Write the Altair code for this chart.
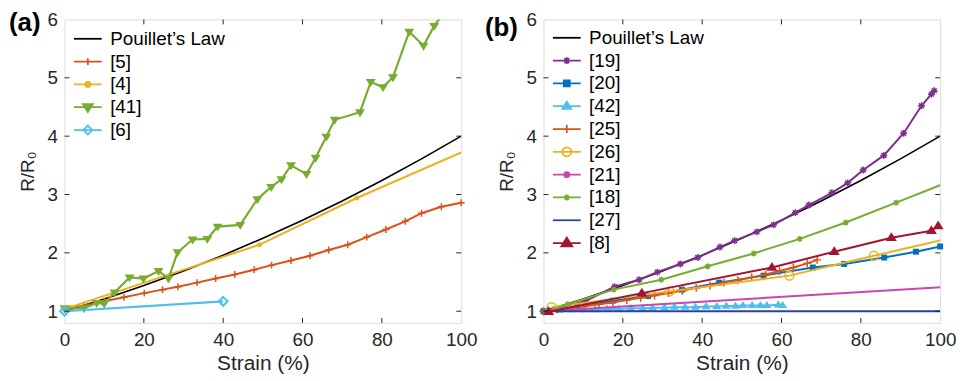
import altair as alt
import pandas as pd

# ---------------- data: panel (a) ----------------
a_pouillet_x = [0, 10, 20, 30, 40, 50, 60, 70, 80, 90, 100]
a_pouillet_y = [1.0, 1.21, 1.44, 1.69, 1.96, 2.25, 2.56, 2.89, 3.24, 3.61, 4.0]

a5_x = [0, 5, 10, 15.0, 20.1, 24.7, 28.6, 33.4, 38.1, 42.9, 47.8, 52.2, 57.1, 61.9, 66.6, 71.4, 76.2, 81.0, 85.9, 90.0, 95.0, 100]
a5_y = [1.03, 1.10, 1.17, 1.24, 1.31, 1.37, 1.42, 1.49, 1.56, 1.63, 1.71, 1.79, 1.87, 1.95, 2.05, 2.14, 2.27, 2.40, 2.54, 2.68, 2.79, 2.86]

a4_x = [1.4, 49.2, 73.7, 104]
a4_y = [1.07, 2.14, 2.94, 3.84]

a41_x = [0, 4.9, 8.1, 10.0, 12.6, 16.4, 19.9, 23.7, 26.2, 28.5, 32.3, 36.0, 38.6, 44.3, 48.6, 52.1, 54.7, 57.1, 61.0, 63.3, 66.0, 68.1, 74.5, 77.2, 80.3, 82.8, 86.9, 90.5, 93.2, 96.5]
a41_y = [1.05, 1.05, 1.14, 1.13, 1.32, 1.58, 1.56, 1.69, 1.56, 2.01, 2.23, 2.24, 2.45, 2.48, 2.92, 3.13, 3.26, 3.50, 3.35, 3.63, 3.99, 4.28, 4.41, 4.93, 4.84, 5.01, 5.79, 5.55, 5.89, 6.2]

a6_x = [0, 40]
a6_y = [1.0, 1.17]

# ---------------- data: panel (b) ----------------
b_pouillet_x = [0, 10, 20, 30, 40, 50, 60, 70, 80, 90, 100]
b_pouillet_y = [1.0, 1.21, 1.44, 1.69, 1.96, 2.25, 2.56, 2.89, 3.24, 3.61, 4.0]

b19_x = [0, 10.5, 17.9, 24.1, 28.7, 34.5, 38.9, 44.5, 48.2, 53.8, 58.0, 63.5, 66.9, 72.7, 76.7, 80.6, 85.8, 90.8, 95.3, 97.8, 98.5]
b19_y = [1.0, 1.17, 1.42, 1.54, 1.67, 1.81, 1.92, 2.10, 2.21, 2.36, 2.48, 2.69, 2.82, 3.03, 3.20, 3.42, 3.67, 4.05, 4.52, 4.72, 4.78]

b20_x = [0, 8.5, 17.4, 26.4, 34.9, 44.3, 55.5, 67.9, 75.8, 85.9, 93.9, 100]
b20_y = [1.0, 1.07, 1.18, 1.26, 1.37, 1.49, 1.61, 1.75, 1.81, 1.92, 2.02, 2.11]

b42_x = [1, 4, 7, 10, 13, 16, 19, 22, 25, 27.5, 30.5, 33.0, 35.7, 38.3, 41.0, 43.7, 46.1, 48.4, 50.3, 52.6, 54.7, 56.3, 59.2, 60.3]
b42_y = [1.02, 1.02, 1.03, 1.03, 1.03, 1.04, 1.04, 1.05, 1.05, 1.06, 1.06, 1.07, 1.07, 1.07, 1.08, 1.08, 1.09, 1.09, 1.10, 1.10, 1.10, 1.10, 1.11, 1.10]

b25_x = [0, 3.5, 7, 10.5, 14, 17.5, 21, 24.5, 28, 31.5, 35, 38.5, 42, 45.5, 49, 52.5, 56, 59.5, 63, 66.5, 69]
b25_y = [1.0, 1.03, 1.06, 1.09, 1.12, 1.15, 1.19, 1.23, 1.27, 1.31, 1.35, 1.40, 1.44, 1.49, 1.53, 1.58, 1.63, 1.69, 1.75, 1.82, 1.88]

b26_x = [2.0, 31.8, 62.0, 83.3, 105]
b26_y = [1.07, 1.34, 1.61, 1.95, 2.29]

b21_x = [0, 110]
b21_y = [1.0, 1.45]

b18_x = [1, 6.1, 17.7, 29.7, 41.4, 53.0, 64.6, 76.2, 88.9, 101.5]
b18_y = [1.0, 1.12, 1.37, 1.54, 1.77, 1.99, 2.24, 2.52, 2.86, 3.20]

b27_x = [0, 100]
b27_y = [1.0, 1.0]

b8_x = [1.3, 24.8, 57.6, 73.3, 87.7, 97.8, 99.5]
b8_y = [0.99, 1.31, 1.75, 2.02, 2.26, 2.38, 2.46]

x_ticks = [0, 20, 40, 60, 80, 100]
y_ticks = [1, 2, 3, 4, 5, 6]

# ---------------- styling ----------------
FONT = "Liberation Sans"
AXC = "#262626"
W, H = 400, 306
XDOM = [0, 100]
YDOM = [0.8, 6]


def mpath(kind, a=1.0):
    if kind == "tri_down":
        return f"M{-a},{-0.6*a}L{a},{-0.6*a}L0,{a}Z"
    if kind == "tri_up":
        return f"M{-a},{0.6*a}L{a},{0.6*a}L0,{-a}Z"
    if kind == "square":
        return f"M{-a},{-a}H{a}V{a}H{-a}Z"
    if kind == "diamond":
        return f"M0,{-a}L{a},0L0,{a}L{-a},0Z"
    if kind in ("circle", "ring"):
        return f"M{-a},0A{a},{a} 0 1,0 {a},0A{a},{a} 0 1,0 {-a},0Z"
    if kind == "plus":
        return f"M{-a},0H{a}M0,{-a}V{a}"
    if kind == "star":
        b = 0.7 * a
        return f"M{-a},0H{a}M0,{-a}V{a}M{-b},{-b}L{b},{b}M{-b},{b}L{b},{-b}"
    return ""


LEG_UNIT = 5.0  # px per path unit in legend (symbolSize 100)


def legpath(kind, px):
    line = "M-2.8,0H2.8"
    if kind is None:
        return line
    return line + mpath(kind, (px / 2) / LEG_UNIT)


def series(name, xs, ys, color, marker=None, px=7, filled=True, lw=1.8, msw=1.5):
    return dict(name=name, x=xs, y=ys, color=color, marker=marker, px=px,
                filled=filled, lw=lw, msw=msw)


ORANGE_RED = "#D95319"
YELLOW = "#EDB120"
GREEN = "#77AC30"
CYAN = "#4DBEEE"
PURPLE = "#7E2F8E"
BLUE = "#0072BD"
MAGENTA = "#CC44B0"
NAVY = "#2D3FA0"
DARKRED = "#A2142F"

series_a = [
    series("Pouillet\u2019s Law", a_pouillet_x, a_pouillet_y, "#000000", None, lw=1.6),
    series("[5]", a5_x, a5_y, ORANGE_RED, "plus", px=7, filled=False, lw=2),
    series("[4]", a4_x, a4_y, YELLOW, "circle", px=5, filled=True, lw=2),
    series("[41]", a41_x, a41_y, GREEN, "tri_down", px=10, filled=True, lw=2.2),
    series("[6]", a6_x, a6_y, CYAN, "diamond", px=9, filled=False, lw=2.2, msw=2),
]

series_b = [
    series("Pouillet\u2019s Law", b_pouillet_x, b_pouillet_y, "#000000", None, lw=1.6),
    series("[19]", b19_x, b19_y, PURPLE, "star", px=7, filled=False, lw=2),
    series("[20]", b20_x, b20_y, BLUE, "square", px=6, filled=True, lw=2),
    series("[42]", b42_x, b42_y, CYAN, "tri_up", px=9, filled=True, lw=2),
    series("[25]", b25_x, b25_y, ORANGE_RED, "plus", px=8, filled=False, lw=2),
    series("[26]", b26_x, b26_y, YELLOW, "ring", px=9, filled=False, lw=2),
    series("[21]", b21_x, b21_y, MAGENTA, "circle", px=5, filled=True, lw=2),
    series("[18]", b18_x, b18_y, GREEN, "star", px=6, filled=False, lw=2),
    series("[27]", b27_x, b27_y, NAVY, None, lw=2),
    series("[8]", b8_x, b8_y, DARKRED, "tri_up", px=11, filled=True, lw=2),
]


def make_panel(slist, tag, tag_dx, tag_dy, legx, legy):
    xscale = alt.Scale(domain=XDOM, nice=False, zero=False)
    yscale = alt.Scale(domain=YDOM, nice=False, zero=False)
    xaxis = alt.Axis(values=x_ticks, title="Strain (%)", ticks=False, domain=False, grid=False,
                     labelFont=FONT, labelFontSize=19, labelColor=AXC, labelPadding=8,
                     labelFlush=False, labelOverlap=False,
                     titleFont=FONT, titleFontSize=21, titleFontWeight="normal",
                     titleColor=AXC, titlePadding=3)
    yaxis = alt.Axis(values=y_ticks, title="R/R\u2080", ticks=False, domain=False, grid=False,
                     labelFont=FONT, labelFontSize=19, labelColor=AXC, labelPadding=7,
                     labelOverlap=False,
                     titleFont=FONT, titleFontSize=19, titleFontWeight="normal",
                     titleColor=AXC, titlePadding=10)
    X = lambda f: alt.X(f, scale=xscale, axis=xaxis)
    Y = lambda f: alt.Y(f, scale=yscale, axis=yaxis)

    layers = []
    for s in slist:
        df = pd.DataFrame({"x": s["x"], "y": s["y"]})
        base = alt.Chart(df)
        layers.append(base.mark_line(color=s["color"], strokeWidth=s["lw"], clip=True)
                      .encode(x=X("x:Q"), y=Y("y:Q")))
        if s["marker"] and s["name"] != "[21]":
            pts = base.transform_filter("datum.x <= 100 && datum.y <= 6").mark_point(
                shape=mpath(s["marker"]), size=s["px"] ** 2, filled=s["filled"],
                color=s["color"], strokeWidth=s["msw"], opacity=1
            ).encode(x=X("x:Q"), y=Y("y:Q"))
            layers.append(pts)

    # inward ticks (box style)
    xt = pd.DataFrame({"x": x_ticks[1:-1]})
    yt = pd.DataFrame({"y": y_ticks[:-1]})
    tk = dict(color=AXC, strokeWidth=1)
    layers.append(alt.Chart(xt).mark_rule(**tk).encode(x=X("x:Q"), y=alt.value(H), y2=alt.value(H - 5)))
    layers.append(alt.Chart(xt).mark_rule(**tk).encode(x=X("x:Q"), y=alt.value(0), y2=alt.value(5)))
    layers.append(alt.Chart(yt).mark_rule(**tk).encode(y=Y("y:Q"), x=alt.value(0), x2=alt.value(5)))
    layers.append(alt.Chart(yt).mark_rule(**tk).encode(y=Y("y:Q"), x=alt.value(W), x2=alt.value(W - 5)))

    # legend (off-plot clipped points carry the legend scales)
    names = [s["name"] for s in slist]
    colors = [s["color"] for s in slist]
    fills = [("transparent" if (s["marker"] is None or not s["filled"]) else s["color"]) for s in slist]
    paths = [legpath(s["marker"], s["px"]) for s in slist]
    leg = alt.Legend(title=None, orient="none", legendX=legx, legendY=legy,
                     labelFont=FONT, labelFontSize=19, labelColor="#000000",
                     symbolSize=100, symbolStrokeWidth=1.8, symbolOffset=14,
                     labelOffset=13, rowPadding=3, padding=0, labelLimit=300)
    ldf = pd.DataFrame({"series": names})
    layers.append(alt.Chart(ldf).mark_point(filled=True, clip=True, opacity=1).encode(
        x=alt.value(-300), y=alt.value(-300),
        shape=alt.Shape("series:N", scale=alt.Scale(domain=names, range=paths), legend=leg),
        fill=alt.Fill("series:N", scale=alt.Scale(domain=names, range=fills), legend=leg),
        stroke=alt.Stroke("series:N", scale=alt.Scale(domain=names, range=colors), legend=leg),
    ))

    # panel tag
    tdf = pd.DataFrame({"t": [tag]})
    layers.append(alt.Chart(tdf).mark_text(font=FONT, fontSize=26, fontWeight="bold",
                                           align="left", baseline="middle", color="#000000")
                  .encode(x=alt.value(tag_dx), y=alt.value(tag_dy), text="t:N"))

    return alt.layer(*layers).properties(width=W, height=H).resolve_scale(
        shape="independent", fill="independent", stroke="independent")


pa = make_panel(series_a, "(a)", -56, 4, 0, 10)
pb = make_panel(series_b, "(b)", -59, 9, 0, 9)

chart = alt.hconcat(pa, pb, spacing=6).resolve_scale(
    x="independent", y="independent", shape="independent", fill="independent", stroke="independent"
).resolve_legend(shape="independent", fill="independent", stroke="independent").properties(
    padding={"left": 0, "top": 0, "right": 0, "bottom": 0}
).configure_view(stroke="#444444", strokeWidth=1).configure(background="white")

chart.save("out.html", embed_options={"renderer": "svg", "actions": False})
